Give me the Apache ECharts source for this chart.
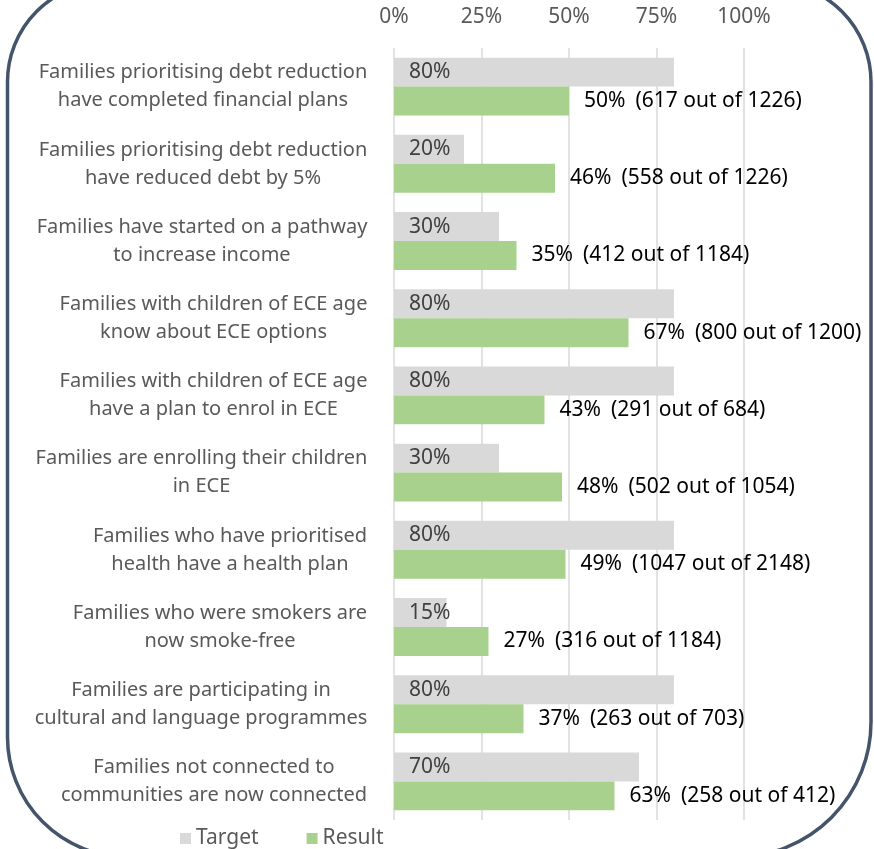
<!DOCTYPE html>
<html>
<head>
<meta charset="utf-8">
<script src="https://cdn.jsdelivr.net/npm/echarts@6/dist/echarts.min.js"></script>
<style>
  html, body { margin: 0; padding: 0; background: #fff; }
  #main { width: 874px; height: 849px; }
</style>
</head>
<body>
<div id="main"></div>
<script>
const categories = [
  "Families prioritising debt reduction\nhave completed financial plans",
  "Families prioritising debt reduction\nhave reduced debt by 5%",
  "Families have started on a pathway\nto increase income",
  "Families with children of ECE age\nknow about ECE options",
  "Families with children of ECE age\nhave a plan to enrol in ECE",
  "Families are enrolling their children\nin ECE",
  "Families who have prioritised\nhealth have a health plan",
  "Families who were smokers are\nnow smoke-free",
  "Families are participating in\ncultural and language programmes",
  "Families not connected to\ncommunities are now connected"
];
const targetValues = [80, 20, 30, 80, 80, 30, 80, 15, 80, 70];
const resultValues = [50, 46, 35, 67, 43, 48, 49, 27, 37, 63];
const resultNotes = [
  "(617 out of 1226)",
  "(558 out of 1226)",
  "(412 out of 1184)",
  "(800 out of 1200)",
  "(291 out of 684)",
  "(502 out of 1054)",
  "(1047 out of 2148)",
  "(316 out of 1184)",
  "(263 out of 703)",
  "(258 out of 412)"
];
const xTicks = [0, 25, 50, 75, 100];

const font = "Noto Sans";
const catSize = 20;
const numSize = 21;

// each category block is centred on its own widest line, block sits right-aligned
const ctx = document.createElement("canvas").getContext("2d");
ctx.font = catSize + 'px "' + font + '"';
const catRich = {};
categories.forEach(function (c, i) {
  const w = Math.max.apply(null, c.split("\n").map(function (l) { return ctx.measureText(l).width; }));
  catRich["c" + i] = {
    width: Math.ceil(w) + 1,
    align: "center",
    color: "#595959",
    fontSize: catSize,
    lineHeight: 28,
    fontFamily: font
  };
});

let option = {
  animation: false,
  textStyle: { fontFamily: font },
  graphic: [
    {
      type: "rect",
      shape: { x: 7.5, y: -18, width: 863.5, height: 875, r: [100, 100, 135, 120] },
      style: { fill: "none", stroke: "#44546A", lineWidth: 3.5 },
      silent: true,
      z: -1
    }
  ],
  legend: {
    data: ["Target", "Result"],
    left: 175,
    top: 823,
    itemWidth: 11,
    itemHeight: 11,
    itemGap: 48,
    icon: "rect",
    textStyle: { color: "#595959", fontSize: numSize, fontFamily: font }
  },
  grid: { left: 394, right: 130, top: 48, bottom: 29 },
  xAxis: {
    type: "value",
    position: "top",
    min: 0,
    max: 100,
    interval: 25,
    axisLine: { show: false },
    axisTick: { show: false },
    splitLine: { lineStyle: { color: "#D9D9D9", width: 1.5 } },
    axisLabel: {
      margin: 20,
      color: "#595959",
      fontSize: numSize,
      fontFamily: font,
      formatter: function (v) {
        return xTicks.indexOf(v) >= 0 ? v + "%" : "";
      }
    }
  },
  yAxis: {
    type: "category",
    data: categories,
    inverse: true,
    axisLine: { show: false },
    axisTick: { show: false },
    axisLabel: {
      margin: 26,
      align: "right",
      formatter: function (value, index) {
        return value.split("\n").map(function (l) {
          return "{c" + index + "|" + l + "}";
        }).join("\n");
      },
      rich: catRich
    }
  },
  series: [
    {
      name: "Target",
      type: "bar",
      data: targetValues,
      barGap: "0%",
      barCategoryGap: "25%",
      itemStyle: { color: "#D9D9D9" },
      label: {
        show: true,
        position: "insideLeft",
        distance: 15,
        color: "#404040",
        fontSize: numSize,
        fontFamily: font,
        formatter: "{c}%"
      }
    },
    {
      name: "Result",
      type: "bar",
      data: resultValues,
      itemStyle: { color: "#A9D18E" },
      label: {
        show: true,
        position: "right",
        distance: 15,
        color: "#000",
        fontSize: numSize,
        fontFamily: font,
        formatter: function (p) {
          return "{p|" + p.value + "%}{n|" + resultNotes[p.dataIndex] + "}";
        },
        rich: {
          p: { color: "#000", fontSize: numSize, fontFamily: font },
          n: { color: "#000", fontSize: numSize, fontFamily: font, padding: [0, 0, 0, 10] }
        }
      }
    }
  ]
};

var myChart = echarts.init(document.getElementById("main"));
myChart.setOption(option);
</script>
</body>
</html>
